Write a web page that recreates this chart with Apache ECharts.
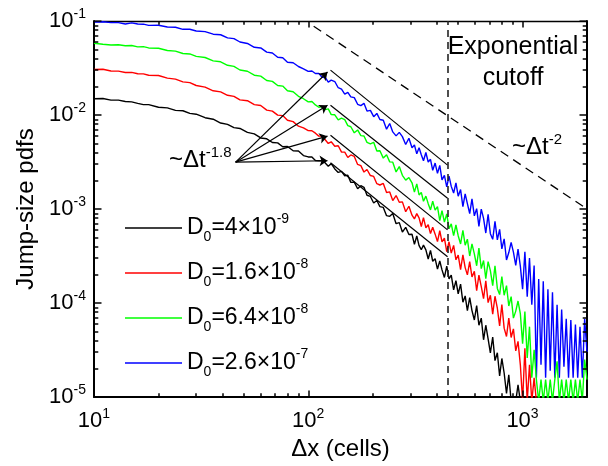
<!DOCTYPE html>
<html>
<head>
<meta charset="utf-8">
<script src="https://cdn.jsdelivr.net/npm/echarts@6/dist/echarts.min.js"></script>
<style>
  html, body { margin: 0; padding: 0; background: #fff; }
  #chart { width: 608px; height: 466px; }
</style>
</head>
<body>
<div id="chart"></div>
<script>
const FONT = '"Liberation Sans", Arial, sans-serif';

// jump size (cells)
const dx = [10,11,12,13,14,15,16,17,18,20,22,24,26,28,30,33,36,39,42,45,48,52,56,60,64,68,72,76,80,85,90,95,100,
  104,108,112,116,120,124,128,133,138,143,148,153,158,164,170,176,182,188,195,202,209,216,224,232,240,248,257,266,275,285,295,
  305,313,321,329,337,345,354,363,372,381,391,401,411,421,432,443,454,465,477,489,501,514,527,540,553,567,581,596,
  611,626,642,658,674,691,708,726,744,763,782,801,821,842,863,885,907,930,953,977,1001,1026,1052,1078,1105,1133,1161,1190,
  1220,1250,1282,1314,1347,1380,1415,1450,1486,1523,1561,1600,1640,1681,1723,1766,1810,1855,1902,1950,2000];

// pdf values (0 = empty bin)
const pdfBlack = [
  0.0149,0.0150,0.0144,0.0144,0.0139,0.0138,0.0133,0.0129,0.0129,0.0121,
  0.0119,0.0112,0.0111,0.0104,0.0102,0.00936,0.00902,0.00822,0.00796,0.00733,
  0.00719,0.00653,0.00630,0.00570,0.00558,0.00510,0.00505,0.00460,0.00463,0.00417,
  0.00414,0.00370,0.00358,0.00357,0.00328,0.00326,0.00326,0.00309,0.00285,0.00304,
  0.00267,0.00245,0.00251,0.00226,0.00229,0.00192,0.00193,0.00164,0.00177,0.0017,
  0.0014,0.00136,0.00116,0.00123,0.00106,0.00104,0.00085,0.000835,0.000897,0.000698,
  0.000716,0.000568,0.000638,0.000536,0.000539,0.00042,0.000516,0.000408,0.000369,0.000413,
  0.000368,0.000294,0.000362,0.000278,0.000296,0.000229,0.00028,0.000225,0.000187,0.000247,
  0.000181,0.000198,0.000138,0.000173,0.000125,0.000159,0.000102,0.000119,8.3e-5,0.000114,
  8.3e-5,6.6e-5,9.4e-5,5.8e-5,6.9e-5,4.06e-5,5.8e-5,4.15e-5,2.95e-5,4.35e-5,
  2.44e-5,2.96e-5,1.68e-5,2.57e-5,1.8e-5,1.09e-5,1.72e-5,0,0,0,
  1.35e-5,0,0,0,0,0,0,0,0,0,
  0,0,0,0,0,0,0,0,0,0,
  0,0,0,0,0,0,0,0,0,0,
  0];
const pdfRed = [
  0.0305,0.0307,0.0294,0.0293,0.0283,0.0284,0.0275,0.0274,0.0265,0.0263,
  0.0247,0.0241,0.0225,0.0221,0.0206,0.0198,0.0181,0.0176,0.0162,0.0158,
  0.0145,0.0142,0.0129,0.0126,0.01126,0.0110,0.00997,0.00985,0.0088,0.0085,
  0.0076,0.0073,0.00682,0.0068,0.00641,0.00596,0.00597,0.00546,0.00498,0.00519,
  0.00465,0.00471,0.00403,0.00403,0.00353,0.00376,0.00362,0.00298,0.00289,0.00247,
  0.00263,0.00227,0.00222,0.00186,0.0018,0.00187,0.0015,0.00152,0.00123,0.00139,
  0.00118,0.00119,0.000935,0.00107,0.00086,0.000785,0.000893,0.000804,0.000652,0.000811,
  0.000631,0.00068,0.000548,0.00064,0.00054,0.00045,0.000587,0.000446,0.00049,0.000351,
  0.000448,0.000339,0.00041,0.000288,0.000323,0.000227,0.000326,0.000238,0.000199,0.000276,
  0.000189,0.000217,0.000135,0.000198,0.000149,0.000111,0.000172,0.000101,0.000121,7.6e-5,
  0.000118,8.8e-5,5.7e-5,9.6e-5,5.4e-5,4.4e-5,6.9e-5,4.3e-5,5.3e-5,3.1e-5,
  3.9e-5,2.2e-5,0,3.3e-5,0,2.2e-5,0,1.6e-5,0,0,
  0,0,0,0,0,0,0,0,0,0,
  0,0,0,0,0,0,0,0,0,0,
  0];
const pdfGreen = [
  0.0580,0.0565,0.0556,0.0559,0.0545,0.0548,0.0530,0.0533,0.0517,0.0513,
  0.0485,0.0478,0.0451,0.0446,0.0420,0.0409,0.0377,0.0368,0.0338,0.0329,
  0.0301,0.0292,0.0265,0.0259,0.0233,0.0228,0.0206,0.0203,0.0181,0.0177,
  0.0158,0.0149,0.0138,0.0139,0.0128,0.0121,0.0123,0.0114,0.0116,0.0101,
  0.01005,0.00886,0.00925,0.00893,0.00772,0.0075,0.00646,0.00694,0.00604,0.00598,
  0.00511,0.00494,0.00512,0.00414,0.00416,0.00348,0.00378,0.00317,0.00315,0.00248,
  0.00283,0.00228,0.00203,0.00216,0.0019,0.00151,0.00185,0.00141,0.0015,0.00121,
  0.00137,0.00114,0.000977,0.00121,0.000972,0.00106,0.000754,0.00096,0.000725,0.000886,
  0.000617,0.000694,0.00052,0.000676,0.00052,0.000425,0.000594,0.000412,0.000478,0.000316,
  0.000426,0.000333,0.000249,0.000383,0.000232,0.000283,0.000182,0.000276,0.000221,0.000153,
  0.000249,0.000143,0.000123,0.000191,0.000121,0.000153,9.3e-5,0.000117,6.9e-5,8.2e-5,
  0.000105,7.7e-5,3.7e-5,8.1e-5,2.6e-5,5.6e-5,1.6e-5,3.18e-5,1.53e-5,0,
  1.53e-5,0,1.53e-5,0,1.53e-5,0,1.53e-5,2.4e-5,0,1.53e-5,
  0,1.53e-5,0,1.53e-5,0,1.53e-5,0,1.53e-5,0,2.5e-5,
  1.53e-5];
const pdfBlue = [
  0.0976,0.0981,0.0962,0.0960,0.0930,0.0955,0.0928,0.0925,0.0899,0.0901,
  0.0864,0.0858,0.0816,0.0818,0.0783,0.0771,0.0724,0.0714,0.0662,0.0649,
  0.0598,0.0577,0.0525,0.0517,0.0467,0.0457,0.0412,0.0406,0.0364,0.0360,
  0.0328,0.0310,0.0291,0.0294,0.0276,0.0277,0.0252,0.0251,0.0224,0.0235,
  0.0227,0.0195,0.0188,0.0167,0.0174,0.0156,0.0153,0.0130,0.0126,0.0133,
  0.0110,0.0112,0.0096,0.0104,0.00895,0.0088,0.00706,0.00812,0.00661,0.006,
  0.00653,0.00589,0.00485,0.00566,0.00448,0.00479,0.00386,0.00448,0.00377,0.00326,
  0.00399,0.00316,0.00338,0.00258,0.00308,0.00239,0.00291,0.00204,0.00228,0.00172,
  0.00224,0.00174,0.00148,0.0019,0.00137,0.00161,0.00106,0.00145,0.00114,0.000895,
  0.00128,0.000845,0.00101,0.000652,0.000995,0.000795,0.000555,0.000875,0.000546,0.000476,
  0.000738,0.000469,0.000606,0.000377,0.000482,0.000287,0.000344,0.000441,0.000348,0.000251,
  0.000375,0.000247,0.00014,0.00035,0.000117,0.0003,9.6e-5,0.00025,1.6e-5,0.00018,
  2.2e-5,0.00017,1.6e-5,0.00014,1.9e-5,0.00013,1.6e-5,9.6e-5,1.6e-5,8.5e-5,
  2.1e-5,6.8e-5,1.6e-5,6.6e-5,1.6e-5,5.9e-5,1.6e-5,5.6e-5,1.6e-5,6.8e-5,
  3.0e-5];

const coeffs = ['4', '1.6', '6.4', '2.6'];
const exps = ['-9', '-8', '-8', '-7'];
const colors = ['#000000', '#ff0000', '#00ff00', '#0000ff'];
const pdfs = [pdfBlack, pdfRed, pdfGreen, pdfBlue];
const names = coeffs.map((c, i) => 'D0=' + c + '×10' + exps[i]);

const xRange = [10, 2000];
const yRange = [1e-5, 0.1];
const xMajor = [10, 100, 1000];
const xMinor = [20,30,40,50,60,70,80,90,200,300,400,500,600,700,800,900];
const yMajor = [1e-5, 1e-4, 1e-3, 1e-2, 1e-1];
const yMinor = [2e-5,3e-5,4e-5,5e-5,6e-5,7e-5,8e-5,9e-5,
  2e-4,3e-4,4e-4,5e-4,6e-4,7e-4,8e-4,9e-4,
  2e-3,3e-3,4e-3,5e-3,6e-3,7e-3,8e-3,9e-3,
  0.02,0.03,0.04,0.05,0.06,0.07,0.08,0.09];

// guide lines (data coordinates)
const fitLines = [
  [[127, 0.030], [447, 0.00293]],
  [[127, 0.0127], [447, 0.0013]],
  [[127, 0.0061], [447, 0.0006]],
  [[127, 0.0031], [447, 0.00031]]
];
const arrowFrom = [45.8, 0.00315];
const arrowTo = [[123, 0.0287], [123, 0.0127], [123, 0.00596], [123, 0.00326]];
const slope2Line = [[106, 0.088], [2000, 0.001]];
const cutoffX = 447;
const ZERO = 9e-6; // empty bins drop just under the axis

// tick lengths, in decades of the other axis
const X_TICK = { major: 0.07, minor: 0.04 };   // vertical ticks, y decades
const Y_TICK = { major: 0.035, minor: 0.02 };  // horizontal ticks, x decades

const axisRich = {
  b: { fontSize: 22, lineHeight: 28, fontFamily: FONT, color: '#000' },
  s: { fontSize: 14, lineHeight: 12, verticalAlign: 'top', fontFamily: FONT, color: '#000' }
};
function pow10Label(v) {
  return '{b|10}{s|' + Math.round(Math.log10(v)) + '}';
}

function logAxis(range, pos, lineWidth) {
  return {
    type: 'log', logBase: 10, min: range[0], max: range[1], position: pos,
    axisLine: { show: true, onZero: false, lineStyle: { color: '#000', width: lineWidth } },
    axisTick: { show: false },
    axisLabel: { show: false },
    splitLine: { show: false }
  };
}

const xMain = logAxis(xRange, 'bottom', 2);
xMain.axisLabel = { show: true, customValues: xMajor, formatter: pow10Label, rich: axisRich, margin: 10 };
xMain.name = 'Δx (cells)';
xMain.nameLocation = 'middle';
xMain.nameGap = 34;
xMain.nameTextStyle = { fontSize: 24, fontFamily: FONT, color: '#000' };

const yMain = logAxis(yRange, 'left', 2);
yMain.axisLabel = { show: true, customValues: yMajor, formatter: pow10Label, rich: axisRich, margin: 8 };
yMain.name = 'Jump-size pdfs';
yMain.nameLocation = 'middle';
yMain.nameGap = 56;
yMain.nameTextStyle = { fontSize: 24, fontFamily: FONT, color: '#000' };

// tick segments on all four sides, in data space
const tickSegs = [];
xMajor.concat(xMinor).forEach(v => {
  const k = Math.pow(10, xMajor.indexOf(v) >= 0 ? X_TICK.major : X_TICK.minor);
  tickSegs.push({ coords: [[v, yRange[0]], [v, yRange[0] * k]] });
  tickSegs.push({ coords: [[v, yRange[1]], [v, yRange[1] / k]] });
});
yMajor.concat(yMinor).forEach(v => {
  const k = Math.pow(10, yMajor.indexOf(v) >= 0 ? Y_TICK.major : Y_TICK.minor);
  tickSegs.push({ coords: [[xRange[0], v], [xRange[0] * k, v]] });
  tickSegs.push({ coords: [[xRange[1], v], [xRange[1] / k, v]] });
});

const series = [];
[3, 2, 1, 0].forEach(i => {
  series.push({
    type: 'line', name: names[i],
    xAxisIndex: 0, yAxisIndex: 0,
    data: dx.map((x, j) => [x, pdfs[i][j] > 0 ? pdfs[i][j] : ZERO]),
    showSymbol: false, symbol: 'none',
    color: colors[i],
    lineStyle: { color: colors[i], width: 1.4 },
    clip: true, silent: true, animation: false
  });
});
series.push({
  type: 'lines', coordinateSystem: 'cartesian2d', xAxisIndex: 0, yAxisIndex: 0,
  symbol: ['none', 'none'], silent: true, animation: false, z: 5,
  lineStyle: { color: '#000', width: 1.2, opacity: 1 },
  data: fitLines.map(c => ({ coords: c }))
});
series.push({
  type: 'lines', coordinateSystem: 'cartesian2d', xAxisIndex: 0, yAxisIndex: 0,
  symbol: ['none', 'arrow'], symbolSize: 8, silent: true, animation: false, z: 5,
  lineStyle: { color: '#000', width: 1.2, opacity: 1 },
  data: arrowTo.map(t => ({ coords: [arrowFrom, t] }))
});
series.push({
  type: 'lines', coordinateSystem: 'cartesian2d', xAxisIndex: 0, yAxisIndex: 0,
  symbol: ['none', 'none'], silent: true, animation: false, z: 5,
  lineStyle: { color: '#000', width: 1.3, opacity: 1, type: [9, 6] },
  data: [{ coords: slope2Line }]
});
series.push({
  type: 'lines', coordinateSystem: 'cartesian2d', xAxisIndex: 0, yAxisIndex: 0,
  symbol: ['none', 'none'], silent: true, animation: false, z: 5,
  lineStyle: { color: '#222', width: 1.6, opacity: 1, type: [7, 5] },
  data: [{ coords: [[cutoffX, yRange[0]], [cutoffX, yRange[1]]] }]
});
series.push({
  type: 'lines', coordinateSystem: 'cartesian2d', xAxisIndex: 0, yAxisIndex: 0,
  symbol: ['none', 'none'], silent: true, animation: false, z: 6,
  lineStyle: { color: '#000', width: 1.5, opacity: 1 },
  data: tickSegs
});

const chart = echarts.init(document.getElementById('chart'), null, { renderer: 'canvas' });
chart.setOption({
  animation: false,
  backgroundColor: '#fff',
  textStyle: { fontFamily: FONT, color: '#000' },
  grid: { left: 94, right: 21, top: 21, bottom: 69, outerBoundsMode: 'none' },
  xAxis: [xMain, logAxis(xRange, 'top', 1.3)],
  yAxis: [yMain, logAxis(yRange, 'right', 2)],
  legend: {
    data: names,
    orient: 'vertical', left: 120, top: 207,
    itemWidth: 57, itemHeight: 1.6, itemGap: 13,
    icon: 'rect', selectedMode: false,
    formatter: function (name) {
      const i = names.indexOf(name);
      return '{m|D}{sub|0}{m|=' + coeffs[i] + '×10}{sup|' + exps[i] + '}';
    },
    textStyle: {
      rich: {
        m: { fontSize: 23, lineHeight: 32, fontFamily: FONT, color: '#000' },
        sub: { fontSize: 14, lineHeight: 12, verticalAlign: 'bottom', fontFamily: FONT, color: '#000' },
        sup: { fontSize: 14, lineHeight: 12, verticalAlign: 'top', fontFamily: FONT, color: '#000' }
      }
    }
  },
  graphic: [
    {
      type: 'text', x: 513, y: 32, silent: true,
      style: { text: 'Exponential\ncutoff', fill: '#000', font: '25px ' + FONT,
        textAlign: 'center', verticalAlign: 'top', lineHeight: 31 }
    },
    {
      type: 'text', x: 169, y: 145, silent: true,
      style: { text: '{a|~Δt}{b|-1.8}', verticalAlign: 'top',
        rich: {
          a: { fontSize: 24, lineHeight: 30, fontFamily: FONT, fill: '#000' },
          b: { fontSize: 15, lineHeight: 12, verticalAlign: 'top', fontFamily: FONT, fill: '#000' }
        } }
    },
    {
      type: 'text', x: 512, y: 132, silent: true,
      style: { text: '{a|~Δt}{b|-2}', verticalAlign: 'top',
        rich: {
          a: { fontSize: 24, lineHeight: 30, fontFamily: FONT, fill: '#000' },
          b: { fontSize: 15, lineHeight: 12, verticalAlign: 'top', fontFamily: FONT, fill: '#000' }
        } }
    }
  ],
  series: series
});
</script>
</body>
</html>
